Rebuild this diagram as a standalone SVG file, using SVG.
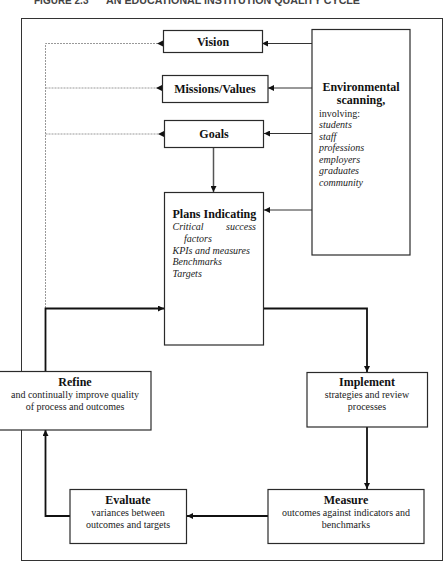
<svg xmlns="http://www.w3.org/2000/svg" width="444" height="562" viewBox="0 0 444 562">
<style>
.box{fill:#fff;stroke:#2a2a2a;stroke-width:1.2}
.b{font-family:"Liberation Serif",serif;font-weight:bold;font-size:12px;fill:#111}
.r{font-family:"Liberation Serif",serif;font-size:10px;fill:#222}
.i{font-family:"Liberation Serif",serif;font-style:italic;font-size:10px;fill:#222}
.thin{fill:none;stroke:#333;stroke-width:1}
.dot{fill:none;stroke:#999;stroke-width:1;stroke-dasharray:2 1}
.thick{fill:none;stroke:#111;stroke-width:1.8}
</style>
<defs>
<marker id="ah" viewBox="0 0 10 10" refX="10" refY="5" markerWidth="6" markerHeight="6" markerUnits="userSpaceOnUse" orient="auto"><path d="M0,0 L10,5 L0,10 z" fill="#111"/></marker>
</defs>
<rect width="444" height="562" fill="#fff"/>
<text x="34" y="4" font-family="Liberation Sans,Arial,sans-serif" font-weight="bold" font-size="10" fill="#444">FIGURE 2.3</text>
<text x="106" y="4" font-family="Liberation Sans,Arial,sans-serif" font-weight="bold" font-size="10" fill="#444" textLength="254" lengthAdjust="spacingAndGlyphs">AN EDUCATIONAL INSTITUTION QUALITY CYCLE</text>
<rect x="21.5" y="18.5" width="421" height="542" fill="none" stroke="#333" stroke-width="1"/>
<g id="connectors">
<path class="thin" d="M312,43.5 H262" marker-end="url(#ah)"/>
<path class="thin" d="M312,88 H268" marker-end="url(#ah)"/>
<path class="thin" d="M312,133.5 H264" marker-end="url(#ah)"/>
<path class="thin" d="M312,210 H264" marker-end="url(#ah)"/>
<path d="M213.5,147.5 V192" fill="none" stroke="#555" stroke-width="1.5" marker-end="url(#ah)"/>
<path class="dot" d="M45.5,308 V43.5 H163"/>
<path class="dot" d="M45.5,88 H162"/>
<path class="dot" d="M45.5,134 H164"/>
<path d="M157,43.5 l6,-3 v6 z M156,88 l6,-3 v6 z M158,134 l6,-3 v6 z" fill="#111"/>
<path class="thick" d="M45.5,371 V308.5 H164" marker-end="url(#ah)"/>
<path class="thick" d="M264,308.5 H367 V372" marker-end="url(#ah)"/>
<path class="thick" d="M367,427 V489" marker-end="url(#ah)"/>
<path class="thick" d="M268,516 H187" marker-end="url(#ah)"/>
<path class="thick" d="M70,516 H45.5 V430" marker-end="url(#ah)"/>
</g>
<g id="vision"><rect class="box" x="163.5" y="30.5" width="99" height="22"/><text class="b" x="213" y="46" text-anchor="middle">Vision</text></g>
<g id="missions"><rect class="box" x="162.5" y="75.5" width="105.5" height="27"/><text class="b" x="215" y="93" text-anchor="middle">Missions/Values</text></g>
<g id="goals"><rect class="box" x="164.5" y="120.5" width="99" height="27"/><text class="b" x="214" y="138" text-anchor="middle">Goals</text></g>
<g id="env"><rect class="box" x="312" y="29.5" width="98" height="225.5"/>
<text class="b" x="361" y="90.5" text-anchor="middle">Environmental</text>
<text class="b" x="361" y="104" text-anchor="middle">scanning,</text>
<text class="r" x="319" y="116.5">involving:</text>
<text class="i" x="319" y="128">students</text>
<text class="i" x="319" y="139.5">staff</text>
<text class="i" x="319" y="151">professions</text>
<text class="i" x="319" y="162.5">employers</text>
<text class="i" x="319" y="174">graduates</text>
<text class="i" x="319" y="185.5">community</text>
</g>
<g id="plans"><rect class="box" x="164.5" y="192.5" width="99" height="152.5"/>
<text class="b" x="172.5" y="217.5">Plans Indicating</text>
<text class="i" x="172.5" y="230">Critical</text>
<text class="i" x="256" y="230" text-anchor="end">success</text>
<text class="i" x="184" y="242">factors</text>
<text class="i" x="172.5" y="253.5">KPIs and measures</text>
<text class="i" x="172.5" y="265">Benchmarks</text>
<text class="i" x="172.5" y="276.5">Targets</text>
</g>
<g id="refine"><rect class="box" x="-1" y="371.5" width="152" height="58.5"/>
<text class="b" x="75" y="386" text-anchor="middle">Refine</text>
<text class="r" x="75" y="398" text-anchor="middle">and continually improve quality</text>
<text class="r" x="75" y="410" text-anchor="middle">of process and outcomes</text>
</g>
<g id="implement"><rect class="box" x="307" y="372.5" width="120.5" height="54.5"/>
<text class="b" x="367" y="385.5" text-anchor="middle">Implement</text>
<text class="r" x="367" y="397.5" text-anchor="middle">strategies and review</text>
<text class="r" x="367" y="409.5" text-anchor="middle">processes</text>
</g>
<g id="measure"><rect class="box" x="268" y="489.5" width="156" height="54"/>
<text class="b" x="346" y="503.5" text-anchor="middle">Measure</text>
<text class="r" x="346" y="515.5" text-anchor="middle">outcomes against indicators and</text>
<text class="r" x="346" y="527.5" text-anchor="middle">benchmarks</text>
</g>
<g id="evaluate"><rect class="box" x="70" y="489.5" width="116.5" height="54"/>
<text class="b" x="128" y="503.5" text-anchor="middle">Evaluate</text>
<text class="r" x="128" y="515.5" text-anchor="middle">variances between</text>
<text class="r" x="128" y="527.5" text-anchor="middle">outcomes and targets</text>
</g>
</svg>
